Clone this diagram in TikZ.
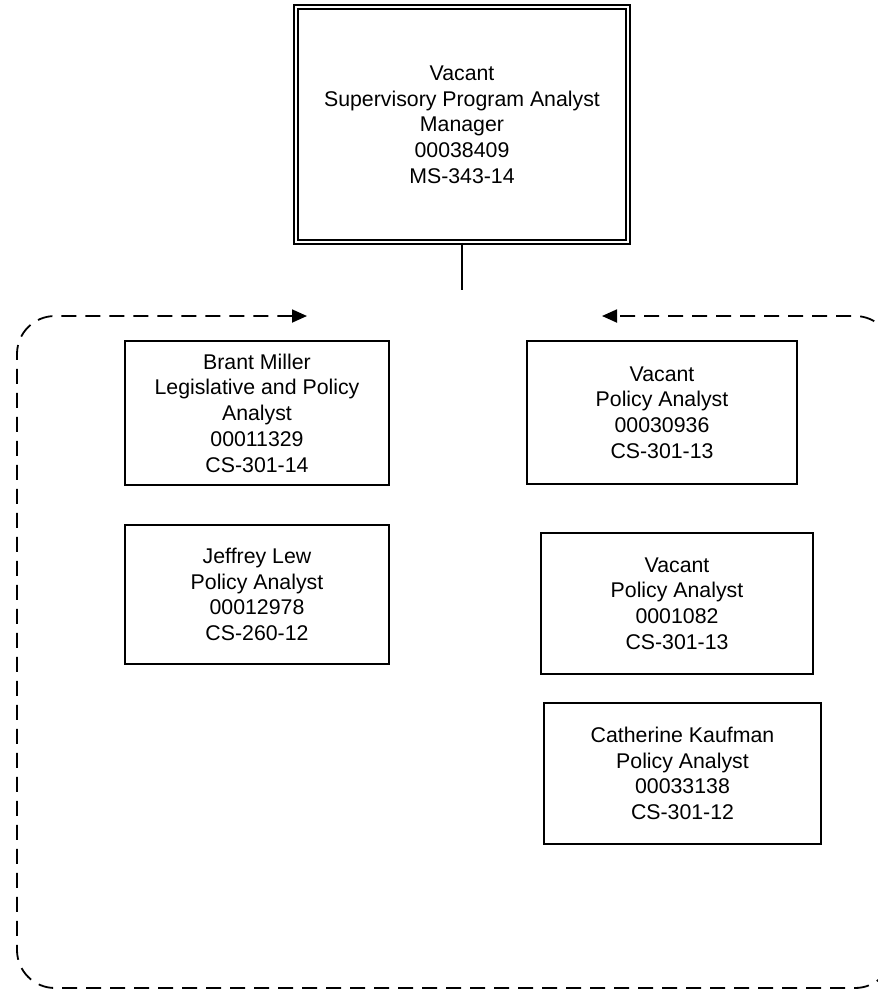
\documentclass[tikz,border=0pt]{standalone}
\usepackage{fontspec}
\setmainfont{Liberation Sans}
\usetikzlibrary{positioning,arrows.meta}

\begin{document}
\begin{tikzpicture}[
  x=1pt, y=-1pt,
  posbox/.style={rectangle, draw=black, line width=1.8pt, fill=white, align=center, inner sep=0pt,
    font=\fontsize{21.3}{25.7}\selectfont},
  headbox/.style={posbox, double, double distance=2.7pt, minimum width=332pt, minimum height=235pt},
  teamframe/.style={draw=black, line width=1.8pt, dash pattern=on 15pt off 9pt, rounded corners=38pt,
    {Triangle[length=15pt, width=13pt]}-{Triangle[length=15pt, width=13pt]}},
  stubline/.style={draw=black, line width=1.8pt}
]
\useasboundingbox (0,0) rectangle (878,989);

% Manager
\node[headbox] (mgr) at (462,124.5) {Vacant\\Supervisory Program Analyst\\Manager\\00038409\\MS-343-14};

% Reports, left column
\node[posbox, minimum width=264pt, minimum height=144pt] (miller) at (257,413)
  {Brant Miller\\Legislative and Policy\\Analyst\\00011329\\CS-301-14};
\node[posbox, minimum width=264pt, minimum height=139pt] (lew) at (257,594.5)
  {Jeffrey Lew\\Policy Analyst\\00012978\\CS-260-12};

% Reports, right column
\node[posbox, minimum width=270pt, minimum height=143pt] (vacantA) at (662,412.5)
  {Vacant\\Policy Analyst\\00030936\\CS-301-13};
\node[posbox, minimum width=272pt, minimum height=141pt] (vacantB) at (677,603.5)
  {Vacant\\Policy Analyst\\0001082\\CS-301-13};
\node[posbox, minimum width=277pt, minimum height=141pt] (kaufman) at (682.5,773.5)
  {Catherine Kaufman\\Policy Analyst\\00033138\\CS-301-12};

% Connector stub and team frame
\coordinate (stub) at (462,290);
\draw[stubline] (mgr.south) -- (stub);

\coordinate (frameL) at (307,316);
\coordinate (frameR) at (602,316);
\draw[teamframe] (frameL) -- (17,316) -- (17,988) -- (893,988) -- (893,316) -- (frameR);

\end{tikzpicture}
\end{document}
